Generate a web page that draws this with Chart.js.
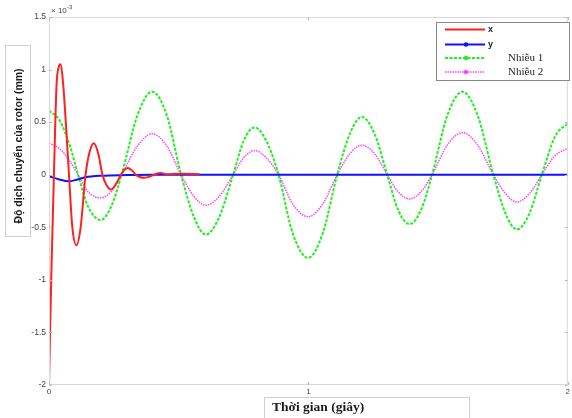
<!DOCTYPE html>
<html>
<head>
<meta charset="utf-8">
<script src="https://cdn.jsdelivr.net/npm/chart.js@4/dist/chart.umd.min.js"></script>
<style>
  body { margin: 0; background: #fff; }
  #wrap { width: 572px; height: 418px; }
</style>
</head>
<body>
<div id="wrap"><canvas id="rotorChart" width="572" height="418"></canvas></div>
<script>
// values are in units of 10^-3 mm (MATLAB style exponent label)
const xTime = [0, 0.004, 0.01, 0.019, 0.029, 0.037, 0.045, 0.055, 0.066, 0.077, 0.09, 0.106, 0.122, 0.141,
  0.157, 0.173, 0.19, 0.206, 0.222, 0.239, 0.258, 0.277, 0.29, 0.303, 0.318, 0.335, 0.35, 0.366, 0.385,
  0.405, 0.43, 0.455, 0.49, 0.53, 0.58];
const xVals = [-2.0, -1.5, -0.85, 0, 0.85, 1.02, 1.05, 0.85, 0.45, 0, -0.5, -0.67, -0.5, 0,
  0.22, 0.30, 0.2, 0, -0.1, -0.14, -0.09, 0, 0.045, 0.065, 0.045, 0, -0.022, -0.03, -0.02,
  0, 0.016, 0.005, 0.01, 0.008, 0.005];

const yTime = [0, 0.04, 0.075, 0.11, 0.14, 0.2, 0.3, 0.4, 2.0];
const yVals = [-0.015, -0.045, -0.063, -0.045, -0.025, -0.01, -0.003, 0, 0];

const n1Time = [0, 0.04, 0.08, 0.112, 0.15, 0.2, 0.24, 0.28, 0.34, 0.398, 0.455, 0.509, 0.56, 0.604, 0.655,
  0.71, 0.75, 0.793, 0.838, 0.885, 0.94, 0.999, 1.055, 1.111, 1.16, 1.206, 1.255, 1.304, 1.345, 1.39,
  1.435, 1.477, 1.535, 1.594, 1.653, 1.713, 1.76, 1.804, 1.852, 1.9, 1.95, 2.0];
const n1Vals = [0.61, 0.52, 0.28, 0, -0.3, -0.43, -0.3, 0, 0.56, 0.79, 0.56, 0, -0.41, -0.57, -0.41,
  0, 0.32, 0.45, 0.32, 0, -0.56, -0.79, -0.56, 0, 0.39, 0.55, 0.39, 0, -0.33, -0.47,
  -0.33, 0, 0.56, 0.79, 0.56, 0, -0.37, -0.52, -0.37, 0, 0.36, 0.49];

const n2Time = n1Time;
const n2Vals = [0.30, 0.25, 0.13, 0, -0.16, -0.22, -0.16, 0, 0.27, 0.39, 0.27, 0, -0.21, -0.29, -0.21,
  0, 0.16, 0.23, 0.16, 0, -0.28, -0.40, -0.28, 0, 0.2, 0.28, 0.2, 0, -0.16, -0.23,
  -0.16, 0, 0.28, 0.40, 0.28, 0, -0.18, -0.26, -0.18, 0, 0.18, 0.25];

const xTicks = [0, 1, 2];
const yTicks = [-2, -1.5, -1, -0.5, 0, 0.5, 1, 1.5];

const zip = (t, v) => t.map((tt, i) => ({ x: tt, y: v[i] }));

const overlay = {
  id: 'overlay',
  afterDraw(chart) {
    const ctx = chart.ctx;
    const a = chart.chartArea;
    const sx = chart.scales.x, sy = chart.scales.y;
    ctx.save();

    // axes box + inward ticks
    ctx.strokeStyle = '#d8d8d8';
    ctx.lineWidth = 1;
    ctx.strokeRect(a.left + 0.5, a.top + 0.5, a.right - a.left - 1, a.bottom - a.top - 1);
    ctx.strokeStyle = '#bbb';
    ctx.beginPath();
    yTicks.forEach(v => {
      const p = Math.round(sy.getPixelForValue(v)) + 0.5;
      ctx.moveTo(a.left, p); ctx.lineTo(a.left + 3, p);
      ctx.moveTo(a.right, p); ctx.lineTo(a.right - 3, p);
    });
    xTicks.forEach(v => {
      const p = Math.round(sx.getPixelForValue(v)) + 0.5;
      ctx.moveTo(p, a.bottom); ctx.lineTo(p, a.bottom - 3);
      ctx.moveTo(p, a.top); ctx.lineTo(p, a.top + 3);
    });
    ctx.stroke();

    // exponent label
    ctx.fillStyle = '#444';
    ctx.textBaseline = 'middle';
    ctx.textAlign = 'left';
    ctx.font = '8px "Liberation Sans", Arial, sans-serif';
    ctx.fillText('× 10', a.left + 2, 11);
    ctx.font = '6px "Liberation Sans", Arial, sans-serif';
    ctx.fillText('-3', a.left + 18, 7);

    // y title box
    ctx.fillStyle = '#fff';
    ctx.strokeStyle = '#d0d0d0';
    ctx.fillRect(5, 45, 26, 192);
    ctx.strokeRect(5.5, 45.5, 25, 191);
    ctx.save();
    ctx.translate(19, 146);
    ctx.rotate(-Math.PI / 2);
    ctx.fillStyle = '#1a1a1a';
    ctx.textAlign = 'center';
    ctx.font = 'bold 10.5px "Liberation Sans", Arial, sans-serif';
    ctx.fillText('Độ dịch chuyển của rotor (mm)', 0, 0);
    ctx.restore();

    // x title box
    ctx.fillStyle = '#fff';
    ctx.fillRect(264, 397, 206, 22);
    ctx.strokeRect(264.5, 397.5, 205, 22);
    ctx.fillStyle = '#1a1a1a';
    ctx.textAlign = 'left';
    ctx.font = 'bold 13.5px "Liberation Serif", "Times New Roman", serif';
    ctx.fillText('Thời gian (giây)', 272, 408);

    // legend
    ctx.fillStyle = '#fff';
    ctx.fillRect(436, 22, 134, 58);
    ctx.strokeStyle = '#888';
    ctx.strokeRect(436.5, 22.5, 133, 58);
    const rows = [29.5, 44.5, 58, 72];
    chart.data.datasets.forEach((ds, i) => {
      const yy = rows[i];
      ctx.strokeStyle = ds.borderColor;
      ctx.lineWidth = ds.borderWidth;
      ctx.setLineDash(ds.borderDash || []);
      ctx.beginPath();
      ctx.moveTo(445, yy); ctx.lineTo(485, yy);
      ctx.stroke();
      ctx.setLineDash([]);
      if (ds.legendMarker) {
        ctx.fillStyle = ds.borderColor;
        ctx.beginPath();
        ctx.arc(466, yy, 2.2, 0, Math.PI * 2);
        ctx.fill();
      }
      ctx.fillStyle = '#222';
      if (i < 2) {
        ctx.font = 'bold 9px "Liberation Sans", Arial, sans-serif';
        ctx.fillText(ds.label, 488, yy);
      } else {
        ctx.font = '11px "Liberation Serif", "Times New Roman", serif';
        ctx.fillText(ds.label, 508, yy);
      }
    });
    ctx.restore();
  }
};

new Chart(document.getElementById('rotorChart'), {
  type: 'line',
  data: {
    datasets: [
      { label: 'x', data: zip(xTime, xVals), borderColor: '#ff2020', borderWidth: 2 },
      { label: 'y', data: zip(yTime, yVals), borderColor: '#1010ff', borderWidth: 2, legendMarker: true },
      { label: 'Nhiễu 1', data: zip(n1Time, n1Vals), borderColor: '#22ee22', borderWidth: 2,
        borderDash: [3, 1.5], legendMarker: true },
      { label: 'Nhiễu 2', data: zip(n2Time, n2Vals), borderColor: '#ff44ff', borderWidth: 1.5,
        borderDash: [1.5, 1], legendMarker: true }
    ]
  },
  options: {
    responsive: false,
    animation: false,
    layout: { padding: { top: 17, right: 1, left: 0, bottom: 0 } },
    elements: {
      point: { radius: 0 },
      line: { cubicInterpolationMode: 'monotone', fill: false }
    },
    plugins: { legend: { display: false }, tooltip: { enabled: false } },
    scales: {
      x: {
        type: 'linear', min: 0, max: 2,
        afterBuildTicks: s => { s.ticks = xTicks.map(v => ({ value: v })); },
        afterFit: s => { s.height = 33; },
        grid: { display: false, drawTicks: false },
        border: { display: false },
        ticks: { padding: 2, color: '#444', font: { size: 8, family: '"Liberation Sans", Arial' },
          maxRotation: 0, callback: v => String(v) }
      },
      y: {
        type: 'linear', min: -2, max: 1.5,
        afterBuildTicks: s => { s.ticks = yTicks.map(v => ({ value: v })); },
        afterFit: s => { s.width = 49; },
        grid: { display: false, drawTicks: false },
        border: { display: false },
        ticks: { padding: 3, color: '#444', font: { size: 8.5, family: '"Liberation Sans", Arial' },
          callback: v => String(v) }
      }
    }
  },
  plugins: [overlay]
});
</script>
</body>
</html>
